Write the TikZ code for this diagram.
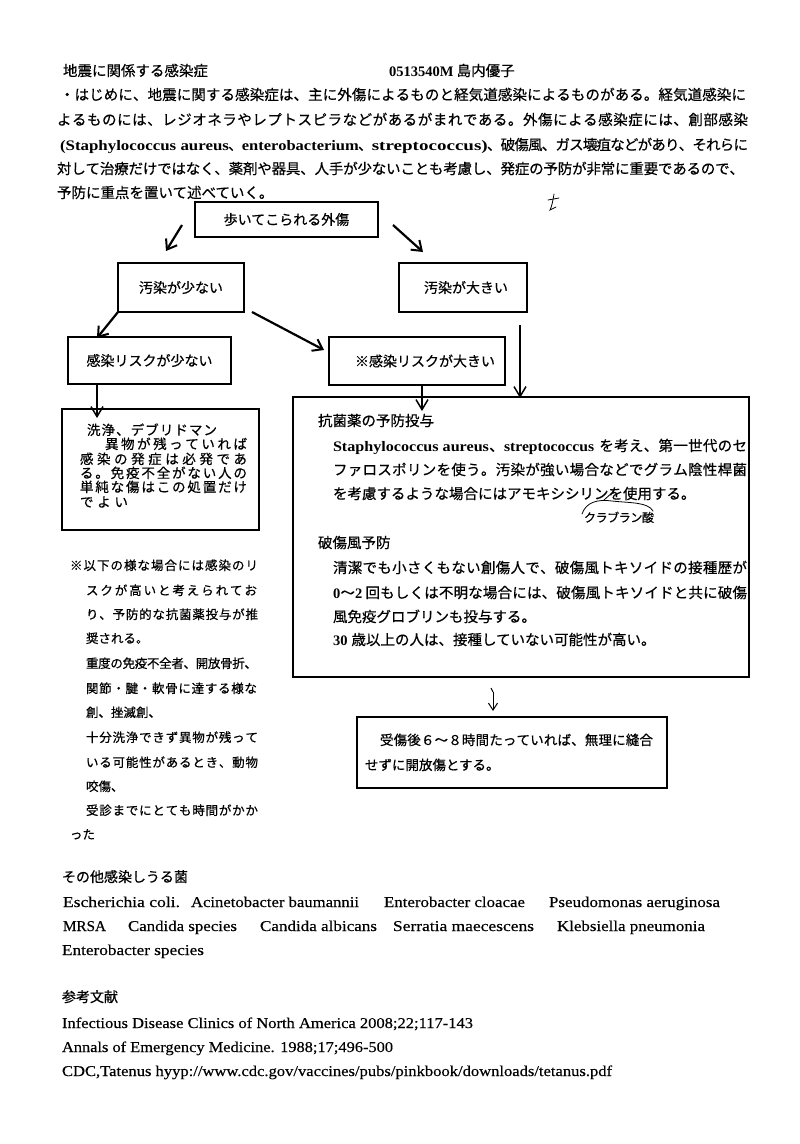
\documentclass[tikz,border=0pt]{standalone}
\usepackage{fontspec}
\usepackage{graphicx}
\setmainfont{Noto Sans CJK JP}[FakeBold=0.5]
\newfontfamily\latf{Liberation Serif}[FakeStretch=1.1, FakeBold=0.3]
\newfontfamily\latbf{Liberation Serif Bold}
\usetikzlibrary{arrows.meta}
\newcommand\latB[1]{{\latbf #1}}
\newcommand\gl{\hskip 0pt plus 1fil minus 1pt\relax}
\def\sprA#1{#1\sprB}
\def\sprB#1{\ifx#1\relax\else\gl#1\expandafter\sprB\fi}
\newcommand\jspread[1]{\sprA#1\relax}
\newcommand\jline[2]{\makebox[#1][s]{#2}}
\newcommand\fitw[2]{\resizebox{#1}{\height}{#2}}
\tikzset{
  tx/.style={anchor=base west, inner sep=0pt, outer sep=0pt, font=\fontsize{14.5pt}{17pt}\selectfont},
  txs/.style={tx, font=\fontsize{12.5pt}{15pt}\selectfont},
  txf/.style={tx, font=\fontsize{13.5pt}{15pt}\selectfont},
  lat/.style={tx, font=\latf\fontsize{15pt}{17pt}\selectfont},
  box/.style={draw, line width=1.3pt, inner sep=0pt, font=\fontsize{14pt}{16pt}\selectfont},
  arrb/.style={line width=2.2pt, -{Straight Barb[length=9pt,width=13pt,line width=2pt]}},
  arrt/.style={line width=1.5pt, -{Straight Barb[length=10pt,width=12pt,line width=1.5pt]}},
  hand/.style={line width=0.8pt, line cap=round}
}
\begin{document}
\begin{tikzpicture}[x=1pt,y=-1pt]
\fill[white] (0,0) rectangle (800,1144);
\useasboundingbox (0,0) rectangle (800,1144);

% header
\node[tx] (title) at (63,76) {地震に関係する感染症};
\node[tx] (author) at (389,76) {\latB{0513540M} 島内優子};
\node[tx] (p1) at (60,100) {\jline{686pt}{\jspread{・はじめに、地震に関する感染症は、主に外傷によるものと経気道感染によるものがある。経気道感染に}}};
\node[tx] (p2) at (57,125) {\jline{691pt}{\jspread{よるものには、レジオネラやレプトスピラなどがあるがまれである。外傷による感染症には、創部感染}}};
\node[tx] (p3) at (60,150) {\jline{688pt}{\fitw{169pt}{\latB{(Staphylococcus aureus}}\gl、\gl\fitw{117pt}{\latB{enterobacterium}}\gl、\gl\fitw{116pt}{\latB{streptococcus)}}\gl\jspread{、破傷風、ガス壊疽などがあり、それらに}}};
\node[tx] (p4) at (57,174) {\jline{687pt}{\jspread{対して治療だけではなく、薬剤や器具、人手が少ないことも考慮し、発症の予防が非常に重要であるので、}}};
\node[tx] (p5) at (57,198) {予防に重点を置いて述べていく。};

% stray mark
\draw[hand] (548,200) -- (559,198);
\draw[hand] (554,194) .. controls (553,200) and (552,206) .. (550,210) .. controls (553,209) .. (556,207);

% flow boxes
\node[box, minimum width=183pt, minimum height=35pt] (A) at (286.5,219.5) {歩いてこられる外傷};
\node[box, minimum width=126pt, minimum height=49pt] (B) at (181,287.5) {汚染が少ない};
\node[box, minimum width=128pt, minimum height=49pt] (C) at (463,287.5) {\hspace{6pt}汚染が大きい};
\node[box, minimum width=163pt, minimum height=47pt] (D) at (149.5,360.5) {感染リスクが少ない};
\node[box, minimum width=176pt, minimum height=48pt] (E) at (417,361) {\hspace{16pt}※感染リスクが大きい};
\node[box, minimum width=197pt, minimum height=121pt] (F) at (160.5,469.5) {};
\node[box, minimum width=456pt, minimum height=280pt] (G) at (521,537) {};
\node[box, minimum width=310pt, minimum height=71pt] (H) at (512,752.5) {};

% arrows
\coordinate (a1s) at (182,225); \coordinate (a1e) at (166,251);
\coordinate (a2s) at (393,225); \coordinate (a2e) at (423,252);
\coordinate (a3s) at (118,312); \coordinate (a3e) at (97,338);
\coordinate (a4s) at (252,312); \coordinate (a4e) at (324,350);
\coordinate (a5s) at (520,325); \coordinate (a5e) at (520,398);
\coordinate (a6e) at (97,418);
\coordinate (a7e) at (422,411);
\coordinate (a8s) at (493,692); \coordinate (a8e) at (493,711);
\draw[arrb] (a1s) -- (a1e);
\draw[arrb] (a2s) -- (a2e);
\draw[arrb] (a3s) -- (a3e);
\draw[arrb] (a4s) -- (a4e);
\draw[arrt] (a5s) -- (a5e);
\draw[arrt] (D.south -| a6e) -- (a6e);
\draw[arrt] (E.south -| a7e) -- (a7e);
\draw[line width=1pt] (491,688) -- (a8s);
\draw[line width=1pt, -{Straight Barb[length=7pt,width=9pt]}] (a8s) -- (a8e);

% box F text
\node[txf] (f1) at (87,435) {\jline{130pt}{\jspread{洗浄、デブリドマン}}};
\node[txf] (f2) at (105,449) {\jline{142pt}{\jspread{異物が残っていれば}}};
\node[txf] (f3) at (80,464) {\jline{167pt}{\jspread{感染の発症は必発であ}}};
\node[txf] (f4) at (80,478) {\jline{167pt}{\jspread{る。免疫不全がない人の}}};
\node[txf] (f5) at (80,492) {\jline{167pt}{\jspread{単純な傷はこの処置だけ}}};
\node[txf] (f6) at (80,507) {\jline{48pt}{\jspread{でよい}}};

% box G text
\node[tx] (g1) at (318,426) {抗菌薬の予防投与};
\node[tx] (g2) at (333,451) {\jline{414pt}{\fitw{156pt}{\latB{Staphylococcus aureus}}\gl、\gl\fitw{90pt}{\latB{streptococcus}}\hskip5pt\gl\jspread{を考え、第一世代のセ}}};
\node[tx] (g3) at (333,475) {\jline{414pt}{\jspread{ファロスポリンを使う。汚染が強い場合などでグラム陰性桿菌}}};
\node[tx] (g4) at (333,499) {を考慮するような場合にはアモキシシリンを使用する。};
\node[tx] (g5) at (318,548) {破傷風予防};
\node[tx] (g6) at (333,573) {\jline{414pt}{\jspread{清潔でも小さくもない創傷人で、破傷風トキソイドの接種歴が}}};
\node[tx] (g7) at (333,598) {\jline{414pt}{\latB{0}\gl〜\gl\latB{2}\hskip3pt\gl\jspread{回もしくは不明な場合には、破傷風トキソイドと共に破傷}}};
\node[tx] (g8) at (333,622) {風免疫グロブリンも投与する。};
\node[tx] (g9) at (333,645) {\latB{30}\hskip4pt 歳以上の人は、接種していない可能性が高い。};

% handwritten note
\draw[hand] (582,514) .. controls (586,502) and (598,499) .. (612,501) .. controls (630,503) and (648,502) .. (653,511);
\draw[hand] (604,500) -- (614,491);
\node[tx, font=\fontsize{12pt}{14pt}\selectfont] (hn) at (584,522) {\jline{70pt}{\jspread{クラブラン酸}}};

% left column
\node[txs] (l1) at (70,570) {\jline{188pt}{\jspread{※以下の様な場合には感染のリ}}};
\node[txs] (l2) at (86,595) {\jline{171pt}{\jspread{スクが高いと考えられてお}}};
\node[txs] (l3) at (86,619) {\jline{172pt}{\jspread{り、予防的な抗菌薬投与が推}}};
\node[txs] (l4) at (86,643) {奨される。};
\node[txs] (l5) at (86,668) {\jline{171pt}{\jspread{重度の免疫不全者、開放骨折、}}};
\node[txs] (l6) at (86,693) {\jline{171pt}{\jspread{関節・腱・軟骨に達する様な}}};
\node[txs] (l7) at (86,717) {創、挫滅創、};
\node[txs] (l8) at (86,742) {\jline{172pt}{\jspread{十分洗浄できず異物が残って}}};
\node[txs] (l9) at (86,767) {\jline{172pt}{\jspread{いる可能性があるとき、動物}}};
\node[txs] (l10) at (86,791) {咬傷、};
\node[txs] (l11) at (86,815) {\jline{172pt}{\jspread{受診までにとても時間がかか}}};
\node[txs] (l12) at (70,839) {った};

% box H text
\node[txf] (h1) at (380,745) {\jline{273pt}{\jspread{受傷後６〜８時間たっていれば、無理に縫合}}};
\node[txf] (h2) at (365,770) {せずに開放傷とする。};

% bottom
\node[tx, font=\fontsize{14pt}{16pt}\selectfont] (b0) at (62,882) {その他感染しうる菌};
\node[lat] (s1) at (63,907) {\fitw{117pt}{Escherichia coli.}};
\node[lat] (s2) at (191,907) {\fitw{168pt}{Acinetobacter baumannii}};
\node[lat] (s3) at (384,907) {\fitw{141pt}{Enterobacter cloacae}};
\node[lat] (s4) at (549,907) {\fitw{171pt}{Pseudomonas aeruginosa}};
\node[lat] (s5) at (63,931) {\fitw{43pt}{MRSA}};
\node[lat] (s6) at (128,931) {\fitw{109pt}{Candida species}};
\node[lat] (s7) at (260,931) {\fitw{117pt}{Candida albicans}};
\node[lat] (s8) at (393,931) {\fitw{141pt}{Serratia maecescens}};
\node[lat] (s9) at (557,931) {\fitw{148pt}{Klebsiella pneumonia}};
\node[lat] (s10) at (62,955) {\fitw{142pt}{Enterobacter species}};
\node[tx, font=\fontsize{14pt}{16pt}\selectfont] (r0) at (62,1002) {参考文献};
\node[lat] (r1) at (62,1028) {\fitw{411pt}{Infectious Disease Clinics of North America 2008;22;117-143}};
\node[lat] (r2) at (62,1052) {\fitw{331pt}{Annals of Emergency Medicine. 1988;17;496-500}};
\node[lat] (r3) at (62,1076) {\fitw{550pt}{CDC,Tatenus hyyp://www.cdc.gov/vaccines/pubs/pinkbook/downloads/tetanus.pdf}};
\end{tikzpicture}
\end{document}
